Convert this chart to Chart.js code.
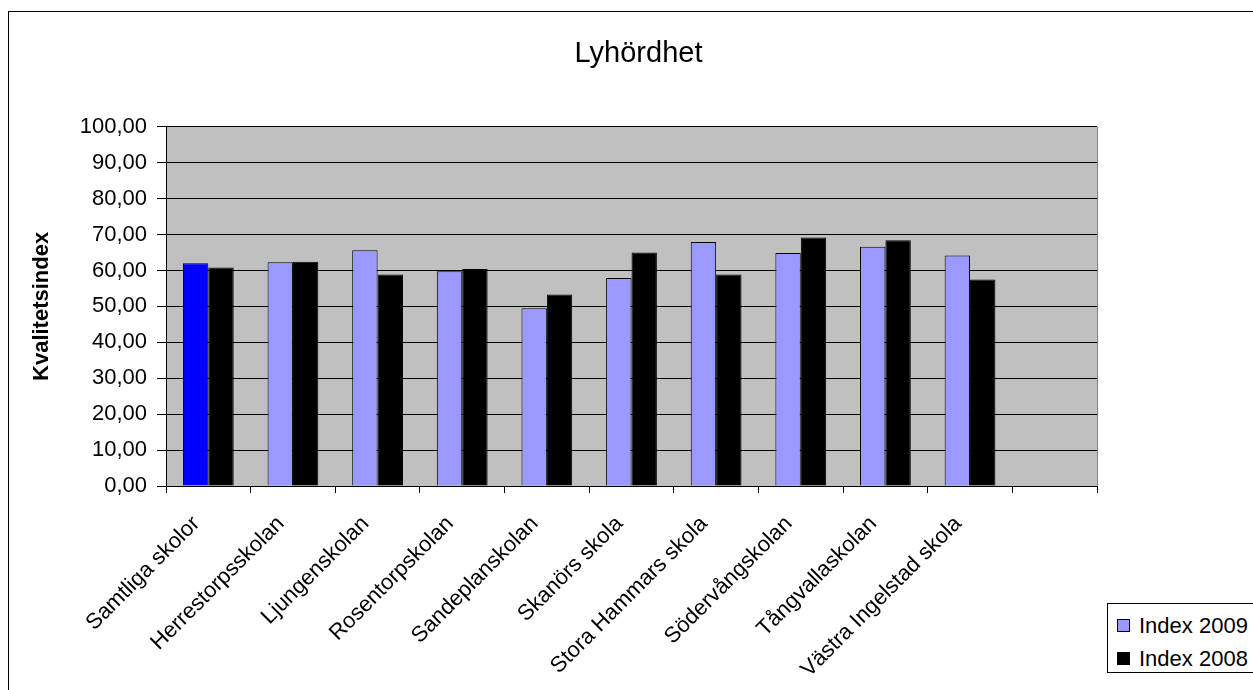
<!DOCTYPE html>
<html>
<head>
<meta charset="utf-8">
<script src="https://cdn.jsdelivr.net/npm/chart.js@4"></script>
<style>
    html, body { margin: 0; padding: 0; background: #fff; overflow: hidden; }
    #ram { position: absolute; left: 8px; top: 11px; width: 2000px; height: 2000px; border: 1px solid #000; }
    #grafLyh { position: absolute; left: 0; top: 0; }
    #legLyh { position: absolute; left: 1107px; top: 603px; width: 170px; height: 68px; border: 1px solid #000;
              font: 22px "Liberation Sans", Arial, sans-serif; color: #000; background: #fff; }
    #legLyh .rad { position: absolute; left: 9px; height: 24px; line-height: 24px; white-space: nowrap; }
    #legLyh .ruta { display: inline-block; width: 11px; height: 11px; border: 1px solid #000; margin-right: 9px; vertical-align: 1px; }
</style>
</head>
<body>
<div id="ram"></div>
<canvas id="grafLyh" width="1253" height="690"></canvas>
<div id="legLyh"></div>
<script>
const skolor = ['Samtliga skolor', 'Herrestorpsskolan', 'Ljungenskolan', 'Rosentorpskolan',
    'Sandeplanskolan', 'Skanörs skola', 'Stora Hammars skola', 'Södervångskolan',
    'Tångvallaskolan', 'Västra Ingelstad skola', ''];
const index2009 = [62.0, 62.3, 65.6, 59.8, 49.5, 57.9, 67.9, 64.9, 66.6, 64.2, null];
const index2008 = [60.8, 62.4, 58.9, 60.4, 53.3, 65.0, 58.9, 69.2, 68.4, 57.5, null];
const yEtiketter = ['0,00', '10,00', '20,00', '30,00', '40,00', '50,00', '60,00', '70,00', '80,00', '90,00', '100,00'];

const typsnitt = '"Liberation Sans", Arial, sans-serif';
const farg09 = skolor.map(function(s, i) { return i === 0 ? '#0000FF' : '#9999FF'; });

const bakgrund = {
    id: 'bakgrund',
    beforeDraw: function(chart) {
        const a = chart.chartArea, c = chart.ctx;
        c.save();
        c.fillStyle = '#C0C0C0';
        c.fillRect(a.left, a.top, a.right - a.left, a.bottom - a.top);
        c.restore();
    },
    afterDraw: function(chart) {
        const a = chart.chartArea, c = chart.ctx;
        c.save();
        c.strokeStyle = '#808080';
        c.lineWidth = 1;
        c.beginPath();
        c.moveTo(Math.round(a.right) + 0.5, a.top);
        c.lineTo(Math.round(a.right) + 0.5, a.bottom);
        c.stroke();
        c.restore();
    }
};

function iniGraf() {
    const ctx = document.getElementById('grafLyh').getContext('2d');
    window.gLyh = new Chart(ctx, {
        type: 'bar',
        data: {
            labels: skolor,
            datasets: [{
                label: 'Index 2009',
                data: index2009,
                backgroundColor: farg09,
                borderColor: '#000',
                borderWidth: 1
            }, {
                label: 'Index 2008',
                data: index2008,
                backgroundColor: '#000000',
                borderColor: '#000',
                borderWidth: 1
            }]
        },
        options: {
            responsive: false,
            animation: false,
            categoryPercentage: 0.6,
            barPercentage: 1.0,
            layout: { padding: { left: 24, right: 0, top: 0, bottom: 0 } },
            plugins: {
                legend: { display: false },
                tooltip: { enabled: false },
                title: {
                    display: true,
                    text: 'Lyhördhet',
                    color: '#000',
                    font: { family: typsnitt, size: 29, weight: 'normal' },
                    padding: { top: 37, bottom: 55 }
                }
            },
            scales: {
                x: {
                    offset: true,
                    grid: { display: true, offset: true, drawOnChartArea: false, drawTicks: true, tickLength: 7, color: '#000' },
                    border: { display: true, color: '#000', width: 1 },
                    ticks: {
                        color: '#000',
                        autoSkip: false,
                        maxRotation: 45,
                        minRotation: 45,
                        padding: 18,
                        labelOffset: -12,
                        font: { family: typsnitt, size: 22 }
                    },
                    afterFit: function(s) { s.height = 204; }
                },
                y: {
                    min: 0,
                    max: 100,
                    grid: { color: '#000', drawTicks: true, tickLength: 9 },
                    border: { display: true, color: '#000', width: 1 },
                    ticks: {
                        stepSize: 10,
                        color: '#000',
                        padding: 10,
                        font: { family: typsnitt, size: 22 },
                        callback: function(v, i) { return yEtiketter[i]; }
                    },
                    title: {
                        display: true,
                        text: 'Kvalitetsindex',
                        color: '#000',
                        font: { family: typsnitt, size: 22, weight: 'bold' },
                        padding: { top: 5, bottom: 0 }
                    },
                    afterFit: function(s) { s.width = 142; }
                },
                hoger: {
                    type: 'linear',
                    position: 'right',
                    display: true,
                    grid: { display: false },
                    border: { display: false },
                    ticks: { display: false },
                    afterFit: function(s) { s.width = 156; }
                }
            }
        },
        plugins: [bakgrund]
    });
}

function iniLeg() {
    const leg = document.getElementById('legLyh');
    const farger = ['#9999FF', '#000000'];
    window.gLyh.data.datasets.forEach(function(d, i) {
        const rad = document.createElement('div');
        rad.className = 'rad';
        rad.style.top = (10 + i * 33) + 'px';
        rad.innerHTML = '<span class="ruta" style="background:' + farger[i] + '"></span>' + d.label;
        leg.appendChild(rad);
    });
}

document.addEventListener("DOMContentLoaded", function() {
    iniGraf();
    iniLeg();
});
</script>
</body>
</html>
